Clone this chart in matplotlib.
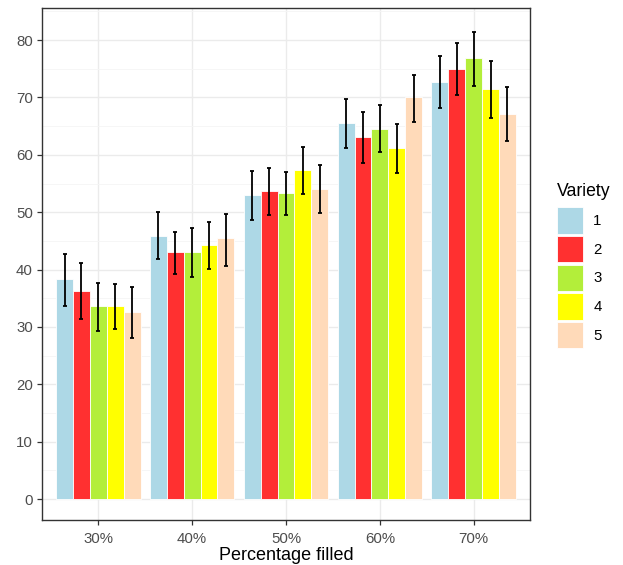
import numpy as np
import matplotlib
matplotlib.use("Agg")
from matplotlib import pyplot as plt
from matplotlib.patches import Patch

plt.rcParams['font.family'] = ['Liberation Sans', 'DejaVu Sans']

# data
categories = ['30%', '40%', '50%', '60%', '70%']
varieties = ['1', '2', '3', '4', '5']
colors = ['#ADD8E6', '#FF3030', '#B3EE3A', '#FFFF00', '#FFDAB9']

means = [
    [38.3, 45.8, 53.0, 65.5, 72.7],   # variety 1
    [36.3, 43.1, 53.7, 63.1, 74.9],   # variety 2
    [33.6, 43.1, 53.3, 64.5, 76.9],   # variety 3
    [33.6, 44.3, 57.3, 61.2, 71.5],   # variety 4
    [32.6, 45.5, 54.0, 70.1, 67.1],   # variety 5
]
err_low = [
    [33.7, 41.8, 48.7, 61.2, 68.1],
    [31.3, 39.3, 49.5, 58.6, 70.4],
    [29.3, 38.7, 49.5, 60.5, 72.0],
    [29.6, 40.1, 53.2, 56.8, 66.4],
    [28.1, 40.7, 49.9, 65.7, 62.4],
]
err_high = [
    [42.8, 50.0, 57.2, 69.7, 77.2],
    [41.1, 46.5, 57.7, 67.4, 79.5],
    [37.7, 47.2, 57.0, 68.7, 81.4],
    [37.5, 48.3, 61.4, 65.4, 76.3],
    [36.9, 49.7, 58.3, 73.9, 71.8],
]

fig = plt.figure(figsize=(6.23, 5.65), dpi=100)
ax = fig.add_axes([42 / 623, 1 - 520 / 565, 488 / 623, 512 / 565])

x = np.arange(1, len(categories) + 1)
bw = 0.9 / len(varieties)
for i, v in enumerate(varieties):
    xs = x - 0.45 + bw * (i + 0.5)
    m = np.array(means[i])
    lo = m - np.array(err_low[i])
    hi = np.array(err_high[i]) - m
    ax.bar(xs, m, width=bw, color=colors[i], edgecolor='white', linewidth=0.6,
           zorder=2, label=v)
    ax.errorbar(xs, m, yerr=[lo, hi], fmt='none', ecolor='black', elinewidth=1.3,
                capsize=1.6, capthick=1.3, zorder=3)

ax.set_xlim(0.4, 5.6)
ax.set_ylim(-3.66, 85.6)
ax.set_xticks(x)
ax.set_xticklabels(categories)
ax.set_yticks(np.arange(0, 81, 10))
ax.set_yticks(np.arange(5, 86, 10), minor=True)
ax.grid(which='major', color='#EBEBEB', linewidth=1.0, zorder=0)
ax.grid(which='minor', axis='y', color='#F5F5F5', linewidth=0.6, zorder=0)
ax.set_axisbelow(True)
for s in ax.spines.values():
    s.set_color('#333333')
    s.set_linewidth(1.0)
ax.tick_params(which='major', length=3.5, width=0.9, color='#333333',
               labelsize=10.8, labelcolor='#4D4D4D', pad=3)
ax.tick_params(axis='x', pad=5)
ax.tick_params(which='minor', length=0)
# the reference clips this label at the bottom edge; keep it just inside
ax.set_xlabel('Percentage filled', fontsize=13, color='black', labelpad=0.5)

handles = [Patch(facecolor=c, edgecolor='white', linewidth=0.6) for c in colors]
leg = fig.legend(handles, varieties, title='Variety', loc='upper left',
                 bbox_to_anchor=(557 / 623, 1 - 183 / 565), frameon=False,
                 fontsize=10.8, title_fontsize=12.7, handlelength=1.72,
                 handleheight=2.3, labelspacing=0.17, handletextpad=0.7,
                 borderaxespad=0, borderpad=0)
leg._legend_box.align = 'left'
leg._legend_box.sep = 5.4  # extra room between title and keys

fig.savefig('out.png', dpi=100)
